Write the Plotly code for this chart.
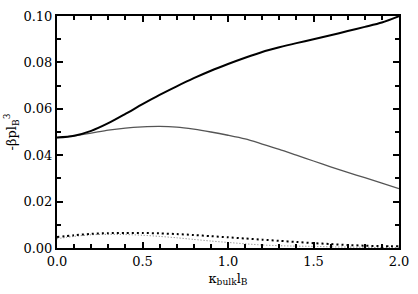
import plotly.graph_objects as go

kappa = [0.0, 0.1, 0.2, 0.3, 0.4, 0.5, 0.6, 0.7, 0.8, 0.9, 1.0,
         1.1, 1.2, 1.3, 1.4, 1.5, 1.6, 1.7, 1.8, 1.9, 2.0]

thick_black = [0.0476, 0.0484, 0.0505, 0.0538, 0.0578, 0.0620, 0.0660, 0.0697, 0.0732, 0.0764, 0.0793,
               0.0820, 0.0845, 0.0865, 0.0883, 0.0900, 0.0917, 0.0935, 0.0953, 0.0972, 0.0999]
thin_gray = [0.0476, 0.0483, 0.0495, 0.0508, 0.0517, 0.0522, 0.0524, 0.0521, 0.0512, 0.0500, 0.0486,
             0.0470, 0.0448, 0.0425, 0.0400, 0.0375, 0.0350, 0.0326, 0.0303, 0.0280, 0.0256]
dot_black = [0.0047, 0.0055, 0.0061, 0.0064, 0.0065, 0.0065, 0.0063, 0.0060, 0.0056, 0.0051, 0.0046,
             0.0041, 0.0036, 0.0031, 0.0026, 0.0021, 0.0017, 0.0013, 0.0010, 0.0008, 0.0007]
dot_gray = [0.0040, 0.0050, 0.0057, 0.0059, 0.0058, 0.0055, 0.0050, 0.0044, 0.0037, 0.0030, 0.0024,
            0.0018, 0.0013, 0.0010, 0.0008, 0.0007, 0.0005, 0.0004, 0.0003, 0.0002, 0.0002]

fig = go.Figure()
fig.add_trace(go.Scatter(x=kappa, y=dot_gray, mode="lines", line=dict(color="#777", width=1, dash="1px,2px", shape="spline", smoothing=0.8)))
fig.add_trace(go.Scatter(x=kappa, y=dot_black, mode="lines", line=dict(color="black", width=2, dash="2px,3px", shape="spline", smoothing=0.8)))
fig.add_trace(go.Scatter(x=kappa, y=thin_gray, mode="lines", line=dict(color="#555", width=1.3, shape="spline", smoothing=0.8)))
fig.add_trace(go.Scatter(x=kappa, y=thick_black, mode="lines", line=dict(color="black", width=2, shape="spline", smoothing=0.8)))

font = dict(family="DejaVu Serif", size=13, color="black")
fig.update_layout(
    width=418, height=294,
    margin=dict(l=57, r=17, t=9, b=46),
    plot_bgcolor="white", paper_bgcolor="white",
    showlegend=False, font=font,
    xaxis=dict(range=[0, 2.0], tickvals=[0, 0.5, 1.0, 1.5, 2.0], ticktext=["0.0", "0.5", "1.0", "1.5", "2.0"],
               ticks="inside", ticklen=6, tickwidth=2, tickcolor="black", mirror="ticks",
               showline=True, linecolor="black", linewidth=2, showgrid=False, zeroline=False,
               tickfont=font,
               minor=dict(dtick=0.1, ticks="inside", ticklen=4, tickwidth=1.5, tickcolor="black"),
               title=dict(text="κ<sub>bulk</sub>l<sub>B</sub>", standoff=6, font=font)),
    yaxis=dict(range=[0, 0.10], tickvals=[0, 0.02, 0.04, 0.06, 0.08, 0.10],
               ticktext=["0.00", "0.02", "0.04", "0.06", "0.08", "0.10"],
               ticks="inside", ticklen=6, tickwidth=2, tickcolor="black", mirror="ticks",
               showline=True, linecolor="black", linewidth=2, showgrid=False, zeroline=False,
               tickfont=font,
               minor=dict(dtick=0.01, ticks="inside", ticklen=4, tickwidth=1.5, tickcolor="black"),
               title=dict(text="-βpl<sub>B</sub><sup>3</sup>", standoff=4, font=font)),
)
fig.write_html("out.html")
